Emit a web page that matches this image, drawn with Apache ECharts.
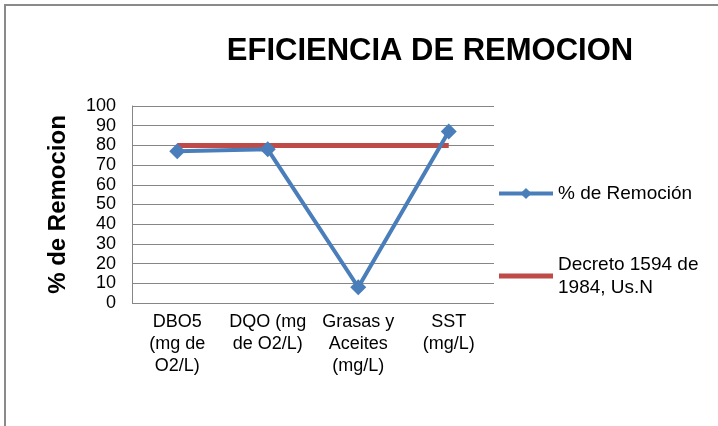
<!DOCTYPE html>
<html>
<head>
<meta charset="utf-8">
<script src="https://cdn.jsdelivr.net/npm/echarts@6/dist/echarts.min.js"></script>
<style>
  html, body { margin: 0; padding: 0; background: #fff; }
  #chart { width: 718px; height: 426px; }
</style>
</head>
<body>
<div id="chart"></div>
<script>
var categories = ['DBO5\n(mg de\nO2/L)', 'DQO (mg\nde O2/L)', 'Grasas y\nAceites\n(mg/L)', 'SST\n(mg/L)'];
var remocion = [77, 78, 8, 87];
var decreto = [80, 80, 80, 80];
var yTicks = [0, 10, 20, 30, 40, 50, 60, 70, 80, 90, 100];

var chart = echarts.init(document.getElementById('chart'));

var option = {
  backgroundColor: '#fff',
  animation: false,
  textStyle: { fontFamily: 'Liberation Sans, Arial, sans-serif' },
  title: {
    text: 'EFICIENCIA DE REMOCION',
    left: 425,
    top: 31,
    textAlign: 'center',
    textStyle: { fontSize: 31, fontWeight: 'bold', color: '#000', fontFamily: 'Liberation Sans, Arial, sans-serif' }
  },
  graphic: [{
    type: 'rect',
    shape: { x: 5, y: 5, width: 800, height: 500 },
    style: { fill: 'none', stroke: '#8a8a8a', lineWidth: 2 },
    silent: true
  }],
  legend: {
    orient: 'vertical',
    left: 492,
    top: 177,
    itemGap: 48,
    itemWidth: 54,
    itemHeight: 14,
    lineStyle: { width: 4 },
    textStyle: { fontSize: 19, color: '#000', lineHeight: 23 },
    data: [
      { name: '% de Remoción' },
      { name: 'Decreto 1594 de\n1984, Us.N', icon: 'path://M0,0 L54,0 L54,5 L0,5 Z' }
    ]
  },
  grid: { left: 132, top: 106, width: 362, height: 197, containLabel: false },
  xAxis: {
    type: 'category',
    data: categories,
    axisLine: { show: false },
    axisTick: { show: false },
    axisLabel: { color: '#000', fontSize: 18, lineHeight: 22, margin: 8, interval: 0 }
  },
  yAxis: {
    type: 'value',
    min: 0,
    max: 100,
    interval: 10,
    name: '% de Remocion',
    nameLocation: 'middle',
    nameGap: 62,
    nameTextStyle: { fontSize: 24, fontWeight: 'bold', color: '#000' },
    axisLine: { show: true, lineStyle: { color: '#868686', width: 1 } },
    axisTick: { show: false },
    axisLabel: {
      color: '#000', fontSize: 18, margin: 16,
      formatter: function (v) { return yTicks.indexOf(v) >= 0 ? String(v) : ''; }
    },
    splitLine: { show: true, lineStyle: { color: '#868686', width: 1 } }
  },
  series: [{
    name: '% de Remoción',
    type: 'line',
    data: remocion,
    symbol: 'diamond',
    symbolSize: 16,
    lineStyle: { color: '#4A7EBB', width: 4 },
    itemStyle: { color: '#4A7EBB' },
    z: 3
  }, {
    name: 'Decreto 1594 de\n1984, Us.N',
    type: 'line',
    data: decreto,
    symbol: 'none',
    lineStyle: { color: '#BE4B48', width: 5 },
    itemStyle: { color: '#BE4B48' },
    z: 2
  }]
};

chart.setOption(option);
</script>
</body>
</html>
